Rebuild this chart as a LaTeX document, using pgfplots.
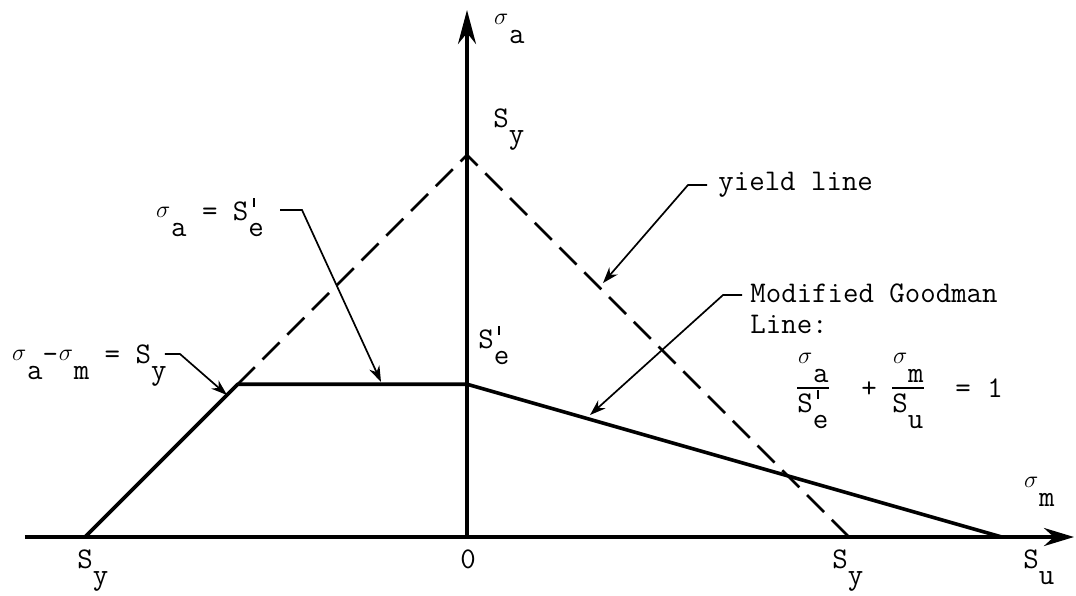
\documentclass[border=0pt]{standalone}
\usepackage{fontspec}
\usepackage{pgfplots}
\pgfplotsset{compat=1.18}
\usetikzlibrary{arrows.meta}

% typewriter-style helpers: one character column, half-line subscripts
\newlength\cw
\setlength\cw{7.875pt}
\newcommand\sig{\makebox[\cw][c]{\raisebox{1.4pt}{\fontsize{12}{12}\selectfont$\sigma$}}}
\newcommand\sub[1]{\raisebox{-8pt}{#1}}
% prime stroke and lowered subscript sharing one column
\newcommand\pr[1]{\makebox[\cw][l]{\rlap{\hspace{2.2pt}\rule[6.6pt]{1.1pt}{4.4pt}}\sub{#1}}}

% Haigh-type diagram, all stresses in units of S_y
%   S_y = 1, S_u = 1.4, S'_e = 0.4
\pgfplotstableread{
sm   sa
-1.0 0.0
-0.6 0.4
 0.0 0.4
 1.4 0.0
}\safeline
\pgfplotstableread{
sm   sa
-0.6 0.4
 0.0 1.0
 1.0 0.0
}\yieldline

\begin{document}
\begin{tikzpicture}[
  tw/.style={anchor=base west,inner sep=0pt,font=\ttfamily\fontsize{15}{18}\selectfont},
  lead/.style={line width=0.85pt,-{Stealth[length=8pt,width=5.5pt]}}]
\begin{axis}[
  width=538pt, height=297.5pt, scale only axis,
  xmin=-1.2225, xmax=1.5942, ymin=-0.1518, ymax=1.4058,
  hide axis, clip=false]

% frame of the figure (invisible)
\addplot[draw=none] coordinates {(-1.2225,-0.1518) (1.5942,1.4058)};

% axes
\addplot[line width=1.8pt,-{Stealth[length=15pt,width=9pt]}] coordinates {(-1.1571,0) (1.5890,0)};
\addplot[line width=1.8pt,-{Stealth[length=17pt,width=9pt]}] coordinates {(0,0) (0,1.3796)};

% yield lines (dashed) and safe region boundary (solid)
\addplot[line width=1.35pt,dash pattern=on 12pt off 5.5pt] table[x=sm,y=sa] {\yieldline};
\addplot[line width=1.8pt,line join=round] table[x=sm,y=sa] {\safeline};

% leaders
\addplot[lead] coordinates {(-0.4895,0.8560) (-0.4319,0.8560) (-0.2251,0.4058)};
\addplot[lead] coordinates {(-0.7906,0.4791) (-0.7513,0.4791) (-0.6283,0.3717)};
\addplot[lead] coordinates {(0.6283,0.9215) (0.5785,0.9215) (0.3560,0.6649)};
\addplot[lead] coordinates {(0.7199,0.6335) (0.6702,0.6335) (0.3220,0.3194)};

% axis labels
\node[tw] at (axis cs:0.0681,1.3351) {\sig\sub{a}};
\node[tw] at (axis cs:1.4555,0.1230) {\sig\sub{m}};
\node[tw] at (axis cs:0.0681,1.0733) {S\sub{y}};
\node[tw] at (axis cs:0.0288,0.4948) {S\pr{e}};
\node[tw,anchor=base] at (axis cs:0.0026,-0.0812) {0};
\node[tw] at (axis cs:-1.0209,-0.0812) {S\sub{y}};
\node[tw] at (axis cs:0.9555,-0.0812) {S\sub{y}};
\node[tw] at (axis cs:1.4555,-0.0812) {S\sub{u}};

% annotations
\node[tw] at (axis cs:-0.8168,0.8298) {\sig\sub{a} = S\pr{e}};
\node[tw] at (axis cs:-1.1937,0.4555) {\sig\sub{a}-\sig\sub{m} = S\sub{y}};
\node[tw] at (axis cs:0.6571,0.9058) {yield line};
\node[tw] at (axis cs:0.7408,0.6152) {Modified Goodman};
\node[tw] at (axis cs:0.7408,0.5340) {Line:};

% Goodman relation
\node[tw] at (axis cs:0.8639,0.4476) {\sig\sub{a}};
\node[tw] at (axis cs:1.1126,0.4476) {\sig\sub{m}};
\node[tw] at (axis cs:0.8639,0.4058) {\rule[-3.5pt]{2\cw}{0.8pt}};
\node[tw] at (axis cs:1.1126,0.4058) {\rule[-3.5pt]{2\cw}{0.8pt}};
\node[tw] at (axis cs:1.0314,0.3665) {+};
\node[tw] at (axis cs:1.2775,0.3665) {=};
\node[tw] at (axis cs:1.3613,0.3665) {1};
\node[tw] at (axis cs:0.8639,0.3272) {S\pr{e}};
\node[tw] at (axis cs:1.1126,0.3272) {S\sub{u}};
\end{axis}
\end{tikzpicture}
\end{document}
